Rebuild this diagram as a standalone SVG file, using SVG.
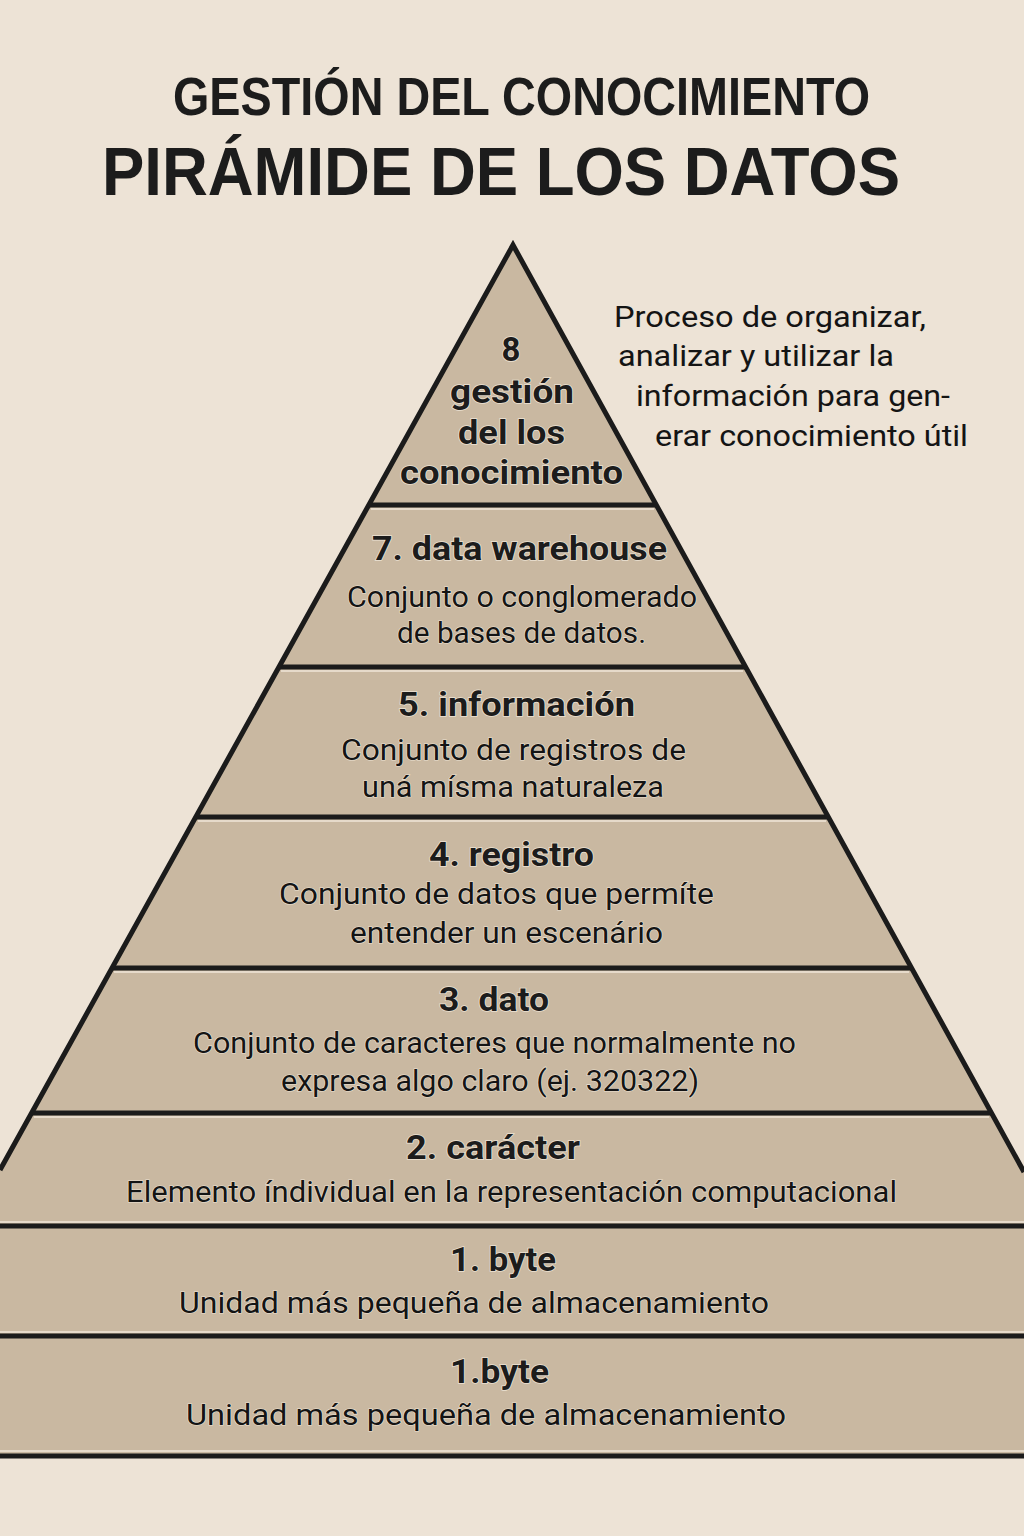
<svg xmlns="http://www.w3.org/2000/svg" width="1024" height="1536" viewBox="0 0 1024 1536">
<style>
.bg{fill:#ede3d6}
.band{fill:#c9b8a1}
.ttl{font-family:"Liberation Sans",Arial,sans-serif;font-weight:bold;fill:#1c1c1c}
.hd{font-family:Roboto,"Liberation Sans",sans-serif;font-weight:bold;font-size:33px;fill:#1c1c1c;stroke:#ece2d3;stroke-width:1.5;paint-order:stroke}
.tx{font-family:Roboto,"Liberation Sans",sans-serif;font-size:30px;fill:#141414;stroke:#ece2d3;stroke-width:1.2;paint-order:stroke}
.side{font-family:Roboto,"Liberation Sans",sans-serif;font-size:30px;fill:#141414}
.edge{fill:none;stroke:#1b1b1b;stroke-width:5;stroke-linejoin:miter}
.div{stroke:#1b1b1b;stroke-width:5}
.hl{stroke:#efe6d8;stroke-width:1.5}
</style>
<rect class="bg" x="0" y="0" width="1024" height="1536"/>
<g id="title">
<text class="ttl" x="173" y="115" font-size="53" textLength="697" lengthAdjust="spacingAndGlyphs">GESTIÓN DEL CONOCIMIENTO</text>
<text class="ttl" x="102" y="195" font-size="68" textLength="798" lengthAdjust="spacingAndGlyphs">PIRÁMIDE DE LOS DATOS</text>
</g>
<g id="level8">
<polygon class="band" points="513,245 656.3,505 368.8,505"/>
<text class="hd" x="511" y="361" text-anchor="middle" font-size="34">8</text>
<text class="hd" x="450" y="403" font-size="34" textLength="124" lengthAdjust="spacingAndGlyphs">gestión</text>
<text class="hd" x="458" y="444" font-size="34" textLength="107" lengthAdjust="spacingAndGlyphs">del los</text>
<text class="hd" x="400" y="484" font-size="34" textLength="223" lengthAdjust="spacingAndGlyphs">conocimiento</text>
</g>
<g id="level8-note">
<text class="side" x="614" y="327" textLength="312" lengthAdjust="spacingAndGlyphs">Proceso de organizar,</text>
<text class="side" x="618" y="366" textLength="276" lengthAdjust="spacingAndGlyphs">analizar y utilizar la</text>
<text class="side" x="636" y="406" textLength="314" lengthAdjust="spacingAndGlyphs">información para gen-</text>
<text class="side" x="655" y="446" textLength="313" lengthAdjust="spacingAndGlyphs">erar conocimiento útil</text>
</g>
<g id="level7">
<polygon class="band" points="368.8,505 656.3,505 745.5,667 279,667"/>
<text class="hd" x="372" y="560" textLength="295" lengthAdjust="spacingAndGlyphs">7. data warehouse</text>
<text class="tx" x="347" y="607" textLength="350" lengthAdjust="spacingAndGlyphs">Conjunto o conglomerado</text>
<text class="tx" x="397" y="643" textLength="249" lengthAdjust="spacingAndGlyphs">de bases de datos.</text>
</g>
<g id="level5">
<polygon class="band" points="279,667 745.5,667 828.2,817 195.8,817"/>
<text class="hd" x="398" y="716" textLength="237" lengthAdjust="spacingAndGlyphs">5. información</text>
<text class="tx" x="341" y="760" textLength="345" lengthAdjust="spacingAndGlyphs">Conjunto de registros de</text>
<text class="tx" x="362" y="797" textLength="302" lengthAdjust="spacingAndGlyphs">uná mísma naturaleza</text>
</g>
<g id="level4">
<polygon class="band" points="195.8,817 828.2,817 911.4,968 112,968"/>
<text class="hd" x="429" y="866" textLength="165" lengthAdjust="spacingAndGlyphs">4. registro</text>
<text class="tx" x="279" y="904" textLength="435" lengthAdjust="spacingAndGlyphs">Conjunto de datos que permíte</text>
<text class="tx" x="350" y="943" textLength="313" lengthAdjust="spacingAndGlyphs">entender un escenário</text>
</g>
<g id="level3">
<polygon class="band" points="112,968 911.4,968 991.3,1113 31.6,1113"/>
<text class="hd" x="439" y="1011" textLength="110" lengthAdjust="spacingAndGlyphs">3. dato</text>
<text class="tx" x="193" y="1053" textLength="603" lengthAdjust="spacingAndGlyphs">Conjunto de caracteres que normalmente no</text>
<text class="tx" x="281" y="1091" textLength="418" lengthAdjust="spacingAndGlyphs">expresa algo claro (ej. 320322)</text>
</g>
<g id="level2">
<polygon class="band" points="31.6,1113 991.3,1113 1024,1172 1024,1226 0,1226 0,1170"/>
<text class="hd" x="406" y="1159" textLength="174" lengthAdjust="spacingAndGlyphs">2. carácter</text>
<text class="tx" x="126" y="1202" textLength="771" lengthAdjust="spacingAndGlyphs">Elemento índividual en la representación computacional</text>
</g>
<g id="level1">
<rect class="band" x="0" y="1226" width="1024" height="110"/>
<text class="hd" x="450" y="1271" textLength="106" lengthAdjust="spacingAndGlyphs">1. byte</text>
<text class="tx" x="179" y="1313" textLength="590" lengthAdjust="spacingAndGlyphs">Unidad más pequeña de almacenamiento</text>
</g>
<g id="level1b">
<rect class="band" x="0" y="1336" width="1024" height="119"/>
<text class="hd" x="450" y="1383" textLength="99" lengthAdjust="spacingAndGlyphs">1.byte</text>
<text class="tx" x="186" y="1425" textLength="600" lengthAdjust="spacingAndGlyphs">Unidad más pequeña de almacenamiento</text>
</g>
<g id="lines">
<line class="hl" x1="371" y1="509" x2="654" y2="509"/>
<line class="hl" x1="281" y1="671" x2="743" y2="671"/>
<line class="hl" x1="198" y1="821" x2="826" y2="821"/>
<line class="hl" x1="114" y1="972" x2="909" y2="972"/>
<line class="hl" x1="34" y1="1117" x2="989" y2="1117"/>
<line class="hl" x1="0" y1="1222" x2="1024" y2="1222"/>
<line class="hl" x1="0" y1="1332" x2="1024" y2="1332"/>
<line class="hl" x1="0" y1="1451" x2="1024" y2="1451"/>
<line class="div" x1="368.8" y1="505" x2="656.3" y2="505"/>
<line class="div" x1="279" y1="667" x2="745.5" y2="667"/>
<line class="div" x1="195.8" y1="817" x2="828.2" y2="817"/>
<line class="div" x1="112" y1="968" x2="911.4" y2="968"/>
<line class="div" x1="31.6" y1="1113" x2="991.3" y2="1113"/>
<line class="div" x1="0" y1="1226" x2="1024" y2="1226"/>
<line class="div" x1="0" y1="1336" x2="1024" y2="1336"/>
<line class="div" x1="0" y1="1456" x2="1024" y2="1456"/>
<polyline class="edge" points="0,1170 513,245 1024,1172"/>
</g>
</svg>
